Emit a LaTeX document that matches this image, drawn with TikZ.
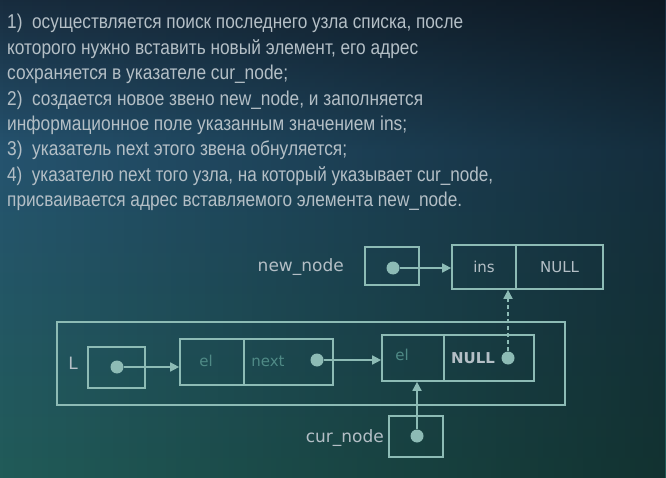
\documentclass[tikz,border=0pt]{standalone}
\usepackage{fontspec}
\setmainfont{Liberation Sans}
\newfontfamily\lblfont{DejaVu Sans}
\usetikzlibrary{arrows.meta,fadings}
\definecolor{bgtop}{HTML}{182C3E}
\definecolor{bgmid}{HTML}{25536F}
\definecolor{bgbot}{HTML}{215B58}
\definecolor{txtc}{HTML}{B4BFC6}
\definecolor{lnc}{HTML}{8DBBB5}
\definecolor{dimc}{HTML}{4F8A86}
\newcommand{\fitw}[2]{\resizebox{#1pt}{\height}{#2}}
\tikzfading[name=darkright, left color=transparent!100, right color=transparent!0]
\tikzset{
  body/.style={anchor=base west, inner sep=0pt, text=txtc, font=\fontsize{20}{22}\selectfont},
  cell/.style={draw=lnc, line width=1.7pt, inner sep=0pt},
  dotn/.style={circle, fill=lnc, inner sep=0pt, minimum size=13pt},
  arr/.style={draw=lnc, line width=1.7pt, -{Triangle[length=9pt,width=9pt]}},
  lbl/.style={inner sep=0pt, text=txtc, font=\lblfont\fontsize{17}{19}\selectfont},
  faint/.style={inner sep=0pt, text=dimc, font=\lblfont\fontsize{15}{17}\selectfont}
}
\begin{document}
\begin{tikzpicture}[x=1pt,y=-1pt]
\useasboundingbox (0,0) rectangle (666,478);
\shade[top color=bgtop, bottom color=bgmid] (0,0) rectangle (666,150);
\shade[top color=bgmid, bottom color=bgbot] (0,150) rectangle (666,478);
\fill[black, opacity=0.45, path fading=darkright] (0,0) rectangle (666,478);

% text
\node[body] (t1) at (7,29) {\fitw{456}{1)\ \ осуществляется поиск последнего узла списка, после}};
\node[body] (t2) at (7,54.4) {\fitw{411}{которого нужно вставить новый элемент, его адрес}};
\node[body] (t3) at (7,79.8) {\fitw{281}{сохраняется в указателе cur\_node;}};
\node[body] (t4) at (7,105.2) {\fitw{416}{2)\ \ создается новое звено new\_node, и заполняется}};
\node[body] (t5) at (7,130.6) {\fitw{400}{информационное поле указанным значением ins;}};
\node[body] (t6) at (7,156) {\fitw{340}{3)\ \ указатель next этого звена обнуляется;}};
\node[body] (t7) at (7,181.4) {\fitw{486}{4)\ \ указателю next того узла, на который указывает cur\_node,}};
\node[body] (t8) at (7,206.8) {\fitw{455}{присваивается адрес вставляемого элемента new\_node.}};

% diagram
\node[cell, minimum width=508pt, minimum height=83pt] (outer) at (311,363.5) {};
\node[cell, minimum width=57pt, minimum height=41pt] (lbox) at (116.5,367.5) {};
\node[cell, minimum width=64pt, minimum height=46pt] (n1el) at (212,362) {};
\node[cell, minimum width=89pt, minimum height=46pt] (n1nx) at (288.5,362) {};
\node[cell, minimum width=62pt, minimum height=46pt] (n2el) at (413,358) {};
\node[cell, minimum width=90pt, minimum height=46pt] (n2nx) at (489,358) {};
\node[cell, minimum width=54pt, minimum height=38pt] (nbox) at (392,266) {};
\node[cell, minimum width=64pt, minimum height=44pt, text=txtc, font=\lblfont\fontsize{15}{17}\selectfont] (insf) at (484,267) {ins};
\node[cell, minimum width=87pt, minimum height=44pt, text=txtc, font=\lblfont\fontsize{15}{17}\selectfont] (nullf) at (559.5,267) {NULL};
\node[cell, minimum width=54pt, minimum height=41pt] (cbox) at (416,436.5) {};

\node[lbl, anchor=east] (lnew) at (344,267) {new\_node};
\node[lbl, anchor=east] (lcur) at (384,438) {cur\_node};
\node[lbl] (lL) at (73,363) {L};

\node[faint] (e1) at (206,361) {el};
\node[faint] (x1) at (268,361) {next};
\node[faint] (e2) at (402,355) {el};
\node[lbl, font=\lblfont\bfseries\fontsize{15}{17}\selectfont] (nl2) at (473,358) {NULL};

\node[dotn] (dL) at (117,367) {};
\node[dotn] (d1) at (317,360) {};
\node[dotn] (d2) at (508,358) {};
\node[dotn] (dN) at (393,268) {};
\node[dotn] (dC) at (417,436) {};

\draw[arr] (dL) -- (dL -| n1el.west);
\draw[arr] (d1) -- (d1 -| n2el.west);
\draw[arr] (dN) -- (dN -| insf.west);
\draw[arr] (dC) -- (dC |- n2el.south);
\draw[arr, dash pattern=on 4pt off 3pt] (d2) -- (d2 |- insf.south);
\end{tikzpicture}
\end{document}
